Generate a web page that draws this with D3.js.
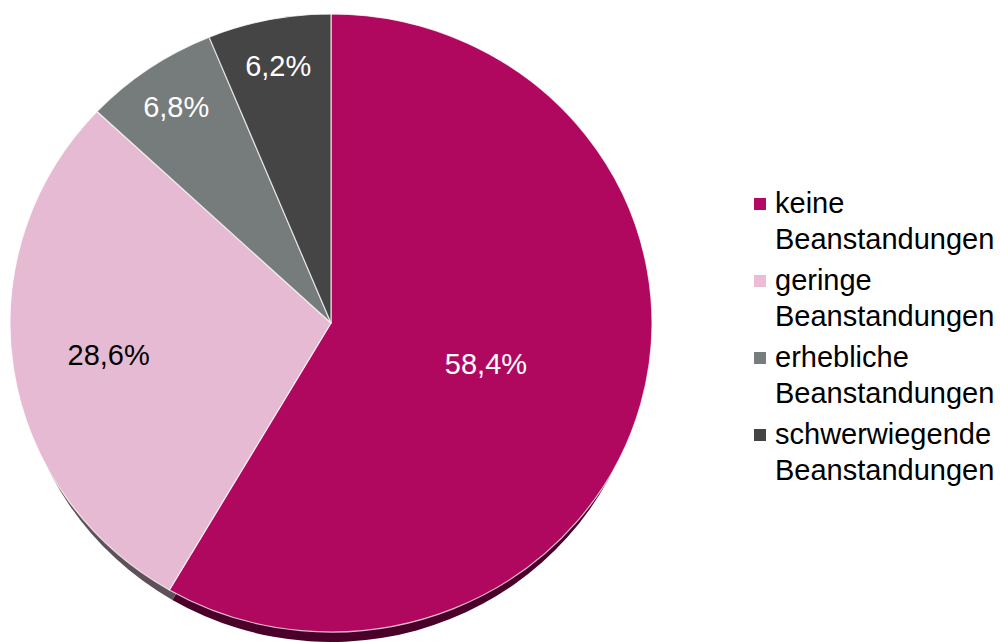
<!DOCTYPE html>
<html>
<head>
<meta charset="utf-8">
<script src="https://cdn.jsdelivr.net/npm/d3@7"></script>
<style>
  html, body { margin: 0; padding: 0; background: #ffffff; }
  svg { display: block; }
  text { font-family: "Liberation Sans", Arial, sans-serif; }
</style>
</head>
<body>
<svg id="chart" width="1000" height="642"></svg>
<script>
// Anteil der Kontrollen nach Ergebnis
const categories = ["keine Beanstandungen", "geringe Beanstandungen", "erhebliche Beanstandungen", "schwerwiegende Beanstandungen"];
const values = [58.4, 28.6, 6.8, 6.2];
const topColors = ["#b1085f", "#e6bad3", "#767c7b", "#454545"];
const sideColors = ["#4b0029", "#5e5059", "#3c403f", "#222222"];
const legendColors = ["#b40a65", "#eabdd5", "#777d7c", "#444444"];
const labelColors = ["#ffffff", "#000000", "#ffffff", "#ffffff"];

const svg = d3.select("#chart");

const cx = 331, cy = 323;
const rx = 321, ry = 309;
const depth = 10, sideRx = 315;

const fmt = d3.formatLocale({ decimal: ",", thousands: ".", grouping: [3], currency: ["", " €"] }).format(".1f");

const pie = d3.pie().sort(null).value(d => d);
const arcs = pie(values);
const arc = d3.arc().innerRadius(0).outerRadius(rx);

// Pie rim (visible below the lower edge of the top face)
svg.append("g")
  .attr("transform", `translate(${cx},${cy + depth}) scale(${sideRx / rx},${ry / rx})`)
  .selectAll("path")
  .data(arcs)
  .join("path")
  .attr("d", arc)
  .attr("fill", (d, i) => sideColors[i]);

// Top face of the pie, squashed slightly for the tilted look
const face = svg.append("g")
  .attr("transform", `translate(${cx},${cy}) scale(1,${ry / rx})`);

face.selectAll("path.slice")
  .data(arcs)
  .join("path")
  .attr("class", "slice")
  .attr("d", arc)
  .attr("fill", (d, i) => topColors[i])
  .attr("stroke", "#ffffff")
  .attr("stroke-opacity", 0.75)
  .attr("stroke-width", 1.2)
  .attr("stroke-linejoin", "round");

// Value labels inside the slices
const labelRadius = d => {
  const share = d.value;
  if (share < 10) return 0.85;
  if (share > 50) return 0.5;
  return 0.7;
};

svg.append("g")
  .selectAll("text")
  .data(arcs)
  .join("text")
  .attr("x", d => {
    const a = (d.startAngle + d.endAngle) / 2;
    return cx + rx * labelRadius(d) * Math.sin(a);
  })
  .attr("y", d => {
    const a = (d.startAngle + d.endAngle) / 2;
    return cy - ry * labelRadius(d) * Math.cos(a);
  })
  .attr("dy", "0.36em")
  .attr("text-anchor", "middle")
  .attr("font-size", 29)
  .attr("fill", (d, i) => labelColors[i])
  .text(d => fmt(d.value) + "%");

// Legend
const legendY = d3.scaleBand()
  .domain(categories)
  .range([186, 494])
  .paddingInner(0);

const legend = svg.append("g")
  .attr("transform", "translate(754,0)");

const item = legend.selectAll("g")
  .data(categories)
  .join("g")
  .attr("transform", d => `translate(0,${legendY(d)})`);

item.append("rect")
  .attr("x", 0).attr("y", 12)
  .attr("width", 12).attr("height", 12)
  .attr("fill", (d, i) => legendColors[i]);

item.append("text")
  .attr("x", 21)
  .attr("y", 27)
  .attr("font-size", 29)
  .attr("fill", "#000000")
  .selectAll("tspan")
  .data(d => {
    const k = d.indexOf(" ");
    return [d.slice(0, k), d.slice(k + 1)];
  })
  .join("tspan")
  .attr("x", 21)
  .attr("dy", (d, i) => i === 0 ? 0 : 36)
  .text(d => d);
</script>
</body>
</html>
